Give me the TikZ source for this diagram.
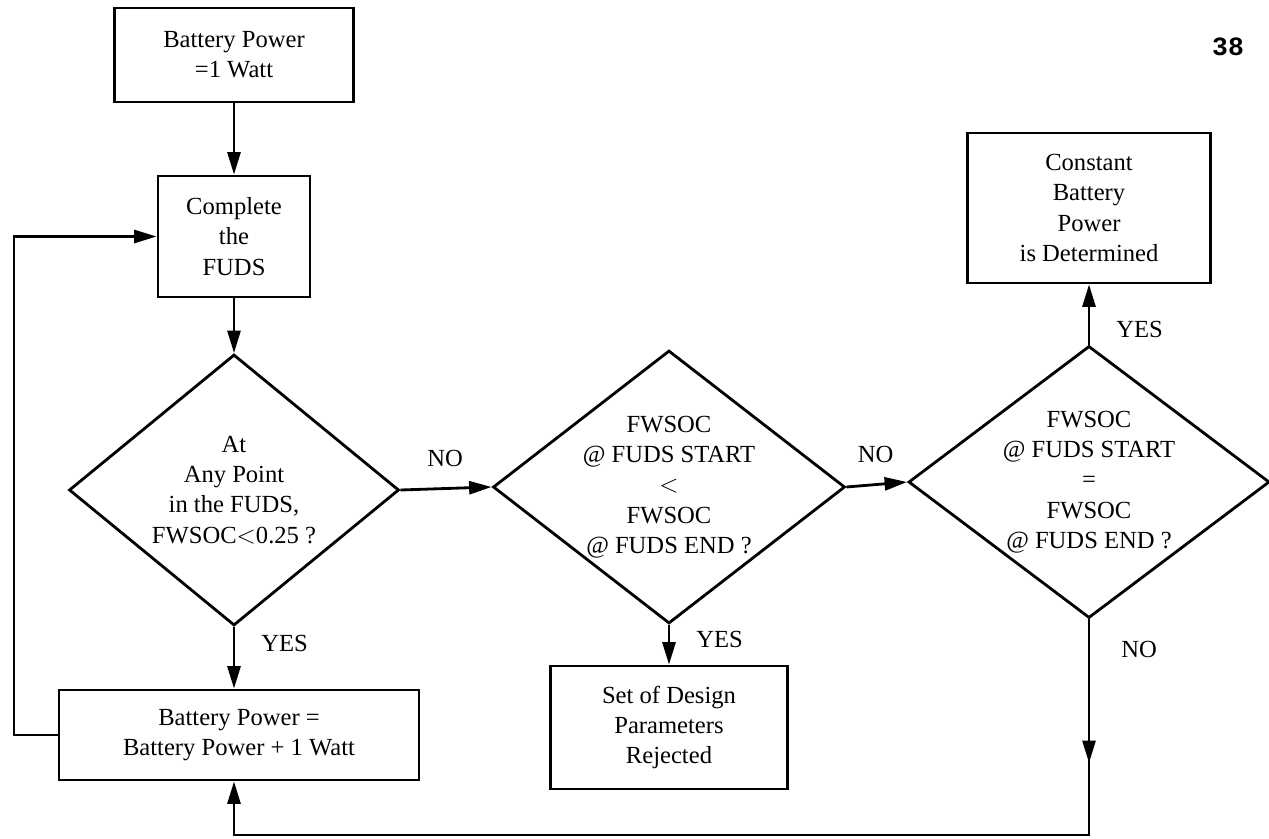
\documentclass[tikz,border=0pt]{standalone}
\usepackage{fontspec}
\setmainfont{Liberation Serif}
\newfontfamily\pagefont{Liberation Mono}
\usetikzlibrary{arrows.meta,calc,positioning,shapes.geometric}
\tikzset{pin/.style={-{Triangle[length=4.5mm, width=2.6mm]}, line width=1.6pt},
  proc/.style={draw, line width=1.6pt, align=center, inner sep=2pt},
  cond/.style={draw, diamond, line width=1.6pt, align=center, inner sep=-4mm}}

\begin{document}
\begin{tikzpicture}[font=\fontsize{14}{17.2}\selectfont]
  \useasboundingbox (0,0) rectangle (25.38,-16.78);
  \node[proc, minimum width=47.8mm, minimum height=18.8mm] (start) at (4.68,-1.10) {Battery Power\\=1 Watt};
  \node[proc, minimum width=30.4mm, minimum height=24.2mm] (fuds) at (4.68,-4.73) {Complete\\the\\FUDS};
  \node[cond, minimum width=66mm, minimum height=54.2mm] (low) at (4.68,-9.80) {At\\Any Point\\in the FUDS,\\FWSOC$<$0.25 ?};
  \node[proc, minimum width=72mm, minimum height=18mm] (inc) at (4.78,-14.70) {Battery Power =\\Battery Power + 1 Watt};
  \node[cond, minimum width=70.4mm, minimum height=54.6mm] (less) at (13.38,-9.74) {FWSOC\\@ FUDS START\\$<$\\FWSOC\\@ FUDS END ?};
  \node[proc, minimum width=47.4mm, minimum height=24.6mm] (reject) at (13.38,-14.55) {Set of Design\\Parameters\\Rejected};
  \node[cond, minimum width=72.2mm, minimum height=54.4mm] (equal) at (21.78,-9.64) {FWSOC\\@ FUDS START\\=\\FWSOC\\@ FUDS END ?};
  \node[proc, minimum width=48.6mm, minimum height=30mm] (done) at (21.78,-4.16) {Constant\\Battery\\Power\\is Determined};
  \node[font=\pagefont\bfseries\fontsize{15}{18}\selectfont] (page) at (24.56,-0.94) {38};
  \coordinate (back) at (0.28,-14.70);
  \coordinate (nodown) at (21.78,-15.26);
  \coordinate (turn) at (21.78,-16.70);

  \draw[pin] (start) -- (fuds);
  \draw[pin] (fuds) -- (low);
  \draw[pin] (low.south) -- node[right=4mm, pos=0.27]{YES} (low.south |- inc.north);
  \draw[pin] (inc.west) -- (back) |- (fuds.west);
  \draw[pin] (low.east) -- node[above=3mm, pos=0.49]{NO} (less.west);
  \draw[pin] (less.south) -- node[right=4mm, pos=0.36]{YES} (reject.north);
  \draw[pin] (less.east) -- node[above=3mm, pos=0.48]{NO} (equal.west);
  \draw[pin] (equal.north) -- node[right=4mm, pos=0.25]{YES} (done.south);
  \draw[pin] (equal.south) -- node[right=5mm, pos=0.21]{NO} (nodown);
  \draw[pin] (equal.south) -- (turn) -| (low.south |- inc.south);
\end{tikzpicture}
\end{document}
